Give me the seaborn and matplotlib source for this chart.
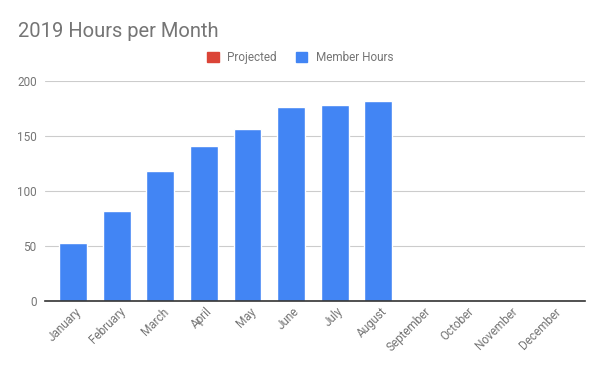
import matplotlib
matplotlib.use("Agg")
import matplotlib.pyplot as plt
import matplotlib.patches as mpatches
import matplotlib.transforms as mtransforms
import seaborn as sns
import pandas as pd

months = ["January", "February", "March", "April", "May", "June", "July",
          "August", "September", "October", "November", "December"]
member_hours = [53, 82, 118, 141, 156, 176, 178, 182, 0, 0, 0, 0]
projected = [0] * 12

df = pd.DataFrame({"Month": months, "Member Hours": member_hours, "Projected": projected})

sns.set_style("white")
plt.rcParams["font.family"] = ["Roboto", "DejaVu Sans"]

fig = plt.figure(figsize=(6, 3.71), dpi=100)
ax = fig.add_axes([0.075, 0.189, 0.9, 0.593])

sns.barplot(data=df, x="Month", y="Member Hours", color="#4285f4", width=0.64,
            saturation=1, ax=ax, order=months)

ax.set_ylim(0, 200)
ax.set_yticks([0, 50, 100, 150, 200])
ax.set_xlim(-0.65, 11.75)
ax.yaxis.grid(True, color="#cccccc", linewidth=0.8)
ax.set_axisbelow(True)
for s in ["top", "right", "left"]:
    ax.spines[s].set_visible(False)
ax.spines["bottom"].set_color("#333333")
ax.spines["bottom"].set_linewidth(1.2)
ax.set_xlabel("")
ax.set_ylabel("")
ax.tick_params(axis="both", length=0, colors="#757575", labelsize=8.5)
ax.tick_params(axis="y", pad=6)
ax.tick_params(axis="x", pad=3)
offset = mtransforms.ScaledTranslation(2 / 100, 0, fig.dpi_scale_trans)
for lbl in ax.get_xticklabels():
    lbl.set_rotation(45)
    lbl.set_ha("right")
    lbl.set_rotation_mode("anchor")
    lbl.set_transform(lbl.get_transform() + offset)

fig.text(0.03, 0.90, "2019 Hours per Month", fontsize=14.5, color="#757575")

handles = [mpatches.Patch(color="#db4437", label="Projected"),
           mpatches.Patch(color="#4285f4", label="Member Hours")]
fig.legend(handles=handles, loc="center", bbox_to_anchor=(0.5, 0.845), ncol=2,
           frameon=False, fontsize=8.5, labelcolor="#757575", handlelength=1.0,
           handleheight=1.0, handletextpad=0.7, columnspacing=1.6)

fig.savefig("out.png", dpi=100)
